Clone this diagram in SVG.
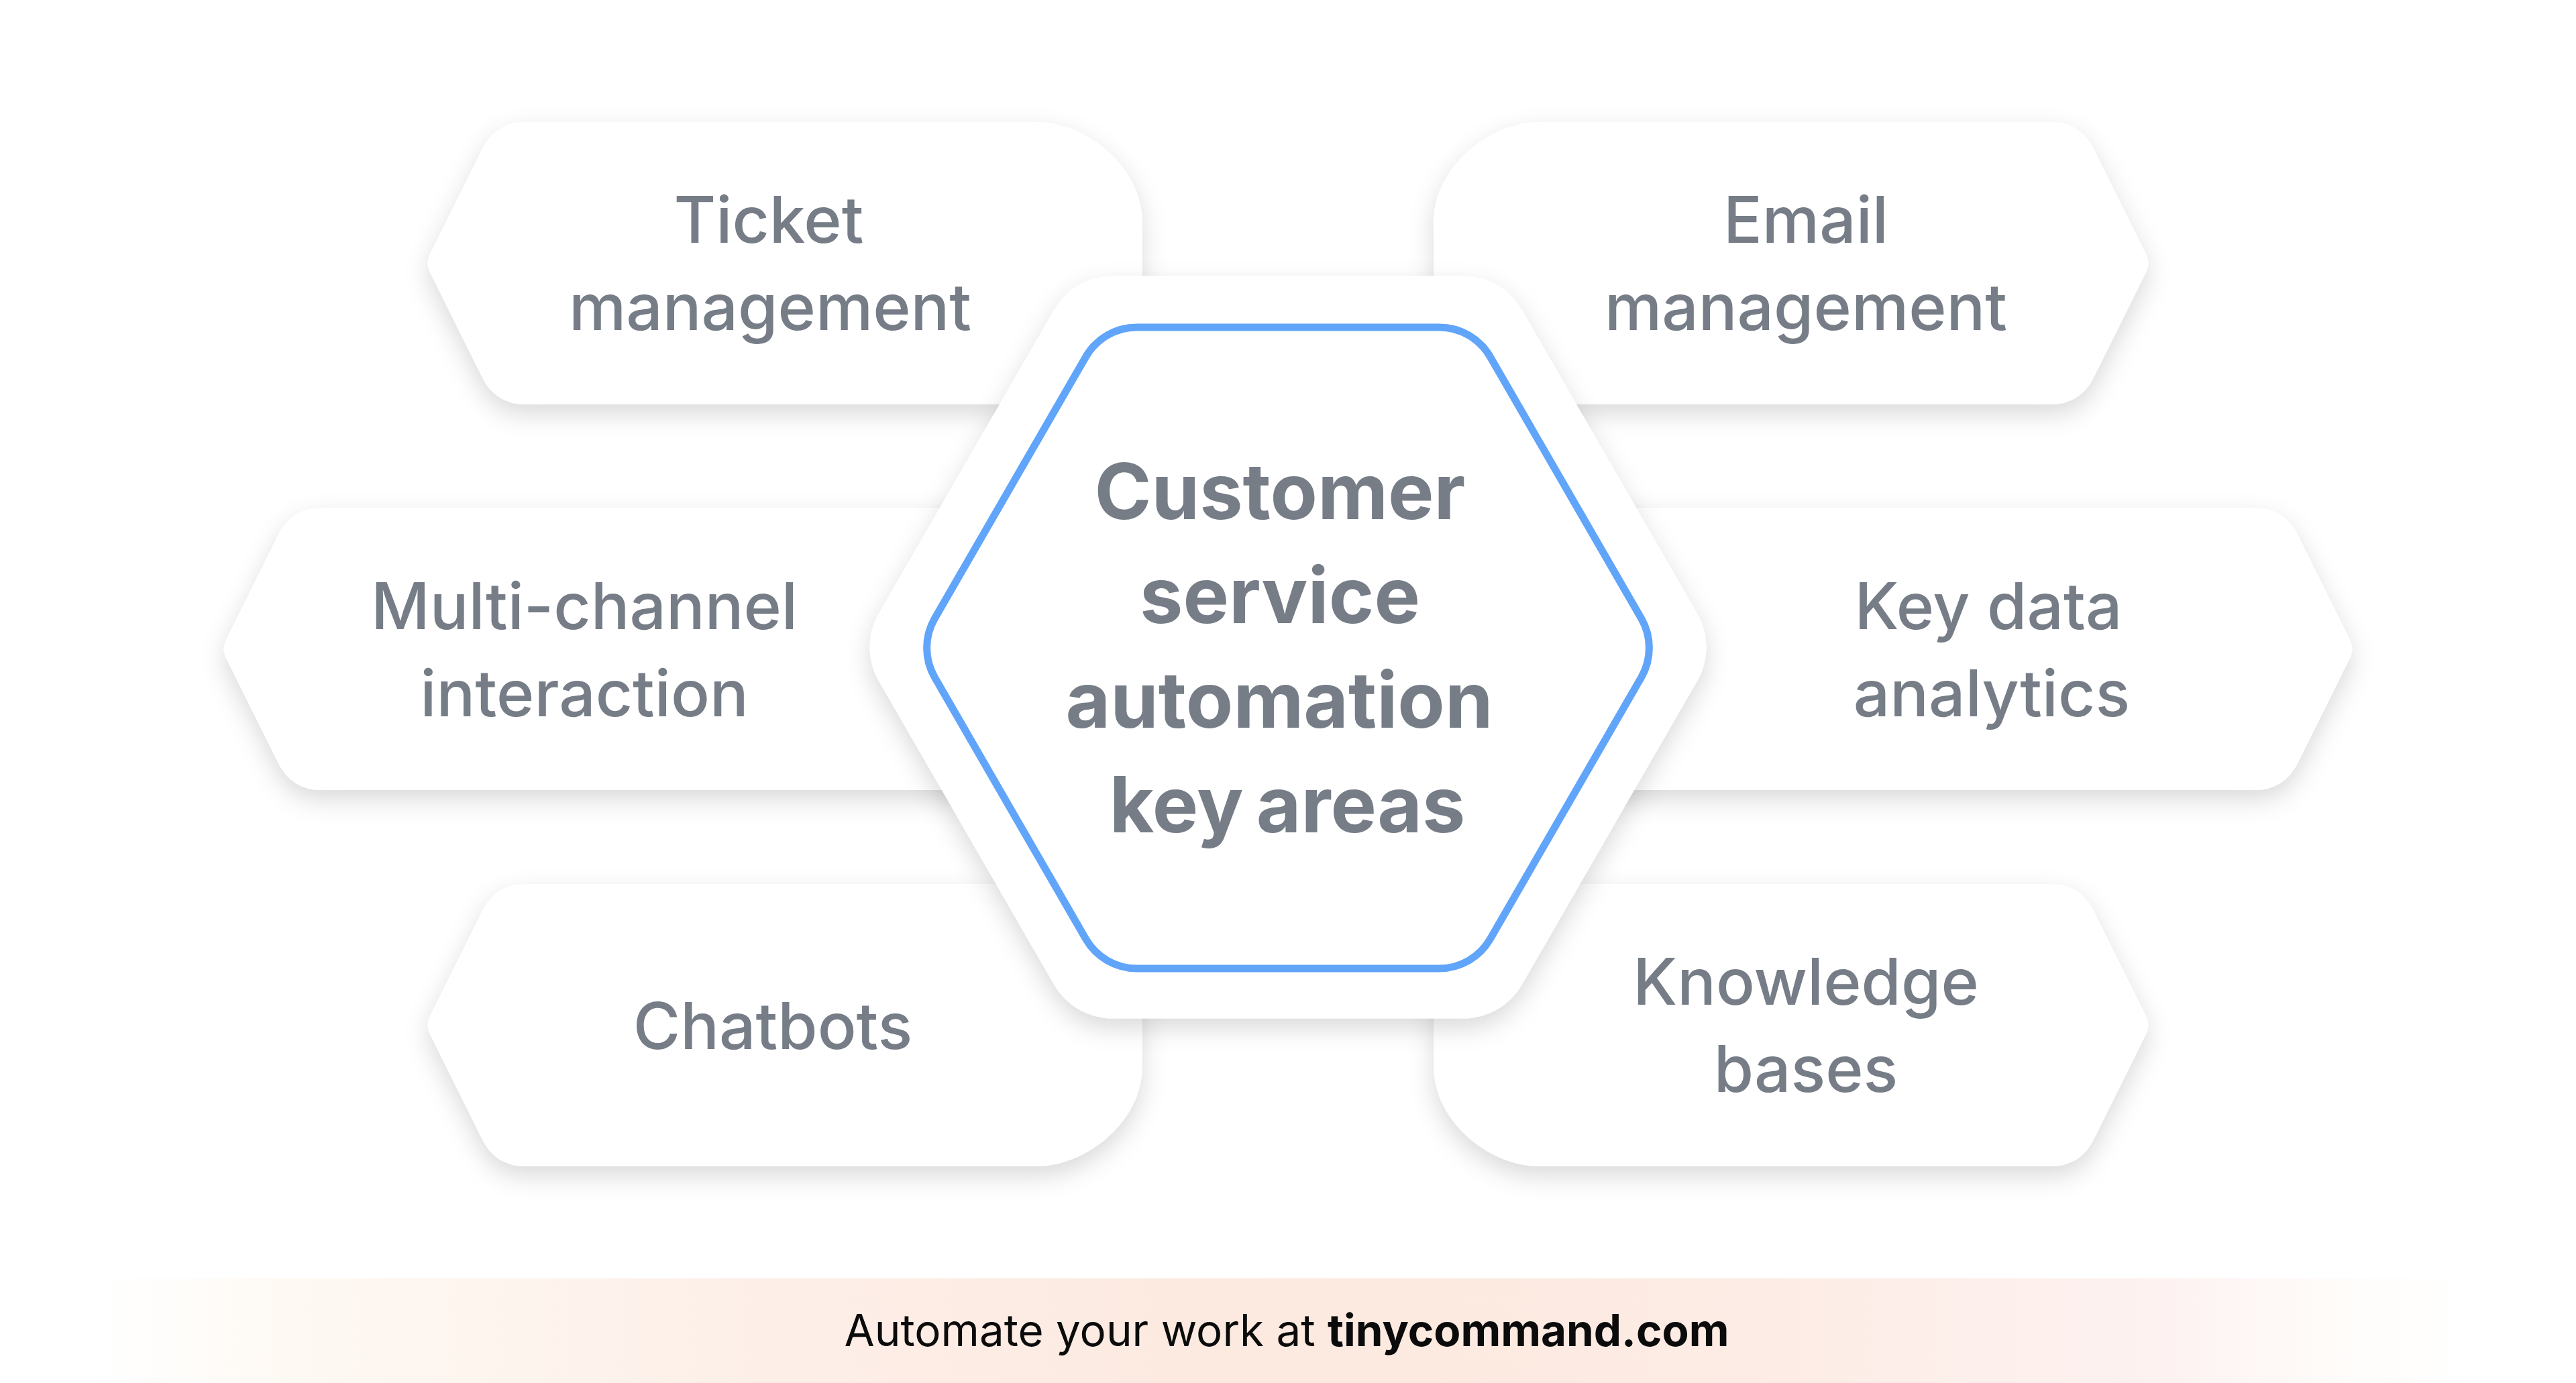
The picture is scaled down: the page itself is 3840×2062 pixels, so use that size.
<svg xmlns="http://www.w3.org/2000/svg" xmlns:xlink="http://www.w3.org/1999/xlink" width="3840" height="2062" viewBox="0 0 3840 2062">
  <style>
    .lbl { font-family: Inter, "Liberation Sans", Arial, sans-serif; font-size: 96px; font-weight: 500; fill: #767d87; text-anchor: middle; }
    .title { font-family: Inter, "Liberation Sans", Arial, sans-serif; font-size: 115px; font-weight: 700; fill: #767d87; text-anchor: middle; }
    .foot { font-family: Inter, "Liberation Sans", Arial, sans-serif; font-size: 65.5px; font-weight: 400; fill: #0b0b0b; text-anchor: middle; }
    .box { fill: #ffffff; }
  </style>
  <defs>
    <filter id="sh" x="-20%" y="-20%" width="140%" height="150%">
      <feDropShadow dx="0" dy="14" stdDeviation="18" flood-color="#000000" flood-opacity="0.15"/>
    </filter>
    <linearGradient id="band" x1="140" y1="0" x2="3700" y2="0" gradientUnits="userSpaceOnUse">
      <stop offset="0" stop-color="#fffaf6" stop-opacity="0"/>
      <stop offset="0.08" stop-color="#fef9f3" stop-opacity="1"/>
      <stop offset="0.3" stop-color="#fdeee7"/>
      <stop offset="0.5" stop-color="#fce9df"/>
      <stop offset="0.7" stop-color="#fdece5"/>
      <stop offset="0.87" stop-color="#fdf2f1"/>
      <stop offset="1" stop-color="#fffcf6" stop-opacity="0"/>
    </linearGradient>
    <path id="sideShape" d="M 784,182 L 1546,182 C 1615,182 1703,245 1703,333 L 1703,452 C 1703,540 1615,603 1546,603 L 784,603 Q 739,603 719,563 L 641,406 Q 634,392.5 641,379 L 719,222 Q 739,182 784,182 Z"/>
    <path id="midShape" d="M 480,757 L 1650,757 Q 1750,757 1750,857 L 1750,1078 Q 1750,1178 1650,1178 L 480,1178 Q 435,1178 415,1138 L 337,981 Q 330,967.5 337,954 L 415,797 Q 435,757 480,757 Z"/>
  </defs>

  <rect x="0" y="0" width="3840" height="2062" fill="#ffffff"/>

  <g id="node-ticket">
    <g filter="url(#sh)"><use xlink:href="#sideShape" class="box"/></g>
    <text class="lbl" x="1146" y="362">Ticket</text>
    <text class="lbl" x="1148" y="492">management</text>
  </g>

  <g id="node-email">
    <g filter="url(#sh)"><use xlink:href="#sideShape" class="box" transform="translate(3840,0) scale(-1,1)"/></g>
    <text class="lbl" x="2692" y="362">Email</text>
    <text class="lbl" x="2692" y="492">management</text>
  </g>

  <g id="node-multichannel">
    <g filter="url(#sh)"><use xlink:href="#midShape" class="box"/></g>
    <text class="lbl" x="871" y="938">Multi-channel</text>
    <text class="lbl" x="871" y="1068">interaction</text>
  </g>

  <g id="node-keydata">
    <g filter="url(#sh)"><use xlink:href="#midShape" class="box" transform="translate(3840,0) scale(-1,1)"/></g>
    <text class="lbl" x="2964" y="938">Key data</text>
    <text class="lbl" x="2969" y="1068">analytics</text>
  </g>

  <g id="node-chatbots">
    <g filter="url(#sh)"><use xlink:href="#sideShape" class="box" transform="translate(0,1921) scale(1,-1)"/></g>
    <text class="lbl" x="1152" y="1564">Chatbots</text>
  </g>

  <g id="node-knowledge">
    <g filter="url(#sh)"><use xlink:href="#sideShape" class="box" transform="translate(3840,1921) scale(-1,-1)"/></g>
    <text class="lbl" x="2692" y="1498">Knowledge</text>
    <text class="lbl" x="2692" y="1628">bases</text>
  </g>

  <g id="connectors"></g>

  <g id="node-center">
    <path filter="url(#sh)" fill="#ffffff" d="M 1658.2,411.6 L 2181.8,411.6 A 100,100 0 0 1 2268.4,461.6 L 2530.1,915 A 100,100 0 0 1 2530.1,1015 L 2268.4,1468.4 A 100,100 0 0 1 2181.8,1518.4 L 1658.2,1518.4 A 100,100 0 0 1 1571.6,1468.4 L 1309.9,1015 A 100,100 0 0 1 1309.9,915 L 1571.6,461.6 A 100,100 0 0 1 1658.2,411.6 Z"/>
    <path fill="#ffffff" stroke="#60a5fa" stroke-width="11" d="M 1694.8,488 L 2145.2,488 A 88,88 0 0 1 2221.4,532 L 2446.6,922 A 88,88 0 0 1 2446.6,1010 L 2221.4,1400 A 88,88 0 0 1 2145.2,1444 L 1694.8,1444 A 88,88 0 0 1 1618.6,1400 L 1393.4,1010 A 88,88 0 0 1 1393.4,922 L 1618.6,532 A 88,88 0 0 1 1694.8,488 Z"/>
    <text class="title" x="1908" y="774">Customer</text>
    <text class="title" x="1908" y="929">service</text>
    <text class="title" x="1907" y="1085">automation</text>
    <text class="title" x="1919" y="1241" word-spacing="-8">key areas</text>
  </g>

  <g id="footer">
    <rect x="140" y="1906" width="3560" height="156" fill="url(#band)"/>
    <text class="foot" x="1918" y="2007">Automate your work at <tspan font-weight="700">tinycommand.com</tspan></text>
  </g>
</svg>
